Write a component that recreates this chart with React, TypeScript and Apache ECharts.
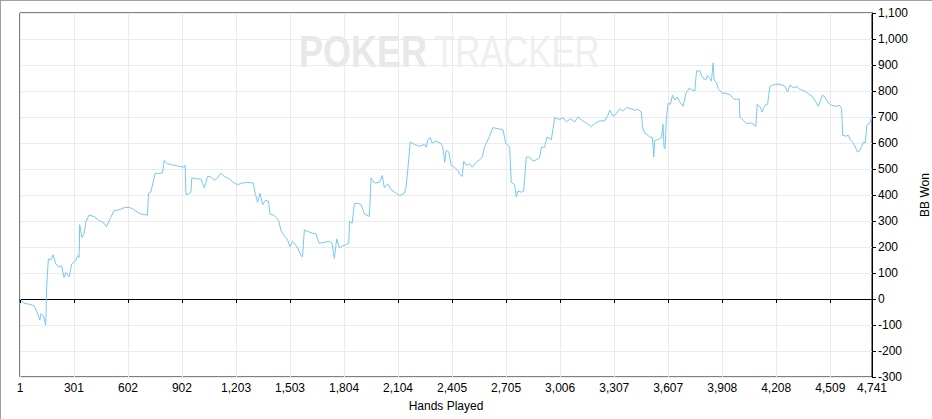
import React, { useEffect, useRef } from "react";
import * as echarts from "echarts";

const hands = [1,23,51,79,97,111,118,131,144,150,159,172,185,200,218,233,246,256,274,289,311,322,330,333,345,357,367,385,413,441,469,482,506,525,552,580,608,627,645,673,701,710,716,729,753,771,794,803,821,849,887,914,920,924,942,952,957,980,1007,1026,1035,1044,1063,1082,1100,1119,1137,1165,1193,1211,1239,1267,1299,1310,1323,1336,1351,1366,1384,1392,1416,1440,1453,1471,1490,1503,1518,1546,1564,1573,1583,1601,1629,1648,1666,1694,1722,1737,1750,1763,1778,1796,1815,1830,1834,1849,1861,1880,1899,1917,1945,1954,1973,2001,2016,2028,2047,2066,2094,2112,2140,2149,2158,2172,2195,2223,2251,2261,2270,2283,2294,2317,2344,2353,2364,2372,2387,2400,2418,2437,2446,2461,2470,2484,2502,2517,2539,2558,2573,2585,2598,2613,2632,2660,2688,2703,2725,2734,2753,2762,2771,2790,2803,2818,2836,2855,2874,2892,2902,2920,2933,2957,2976,3004,3022,3041,3063,3087,3105,3133,3161,3180,3198,3226,3254,3272,3282,3300,3319,3337,3355,3374,3402,3421,3439,3458,3464,3476,3495,3504,3519,3527,3532,3551,3570,3578,3584,3590,3597,3606,3620,3631,3644,3657,3672,3690,3705,3724,3738,3755,3765,3783,3798,3817,3826,3839,3848,3857,3863,3876,3885,3904,3928,3950,3969,3987,4002,4006,4024,4043,4071,4095,4102,4117,4130,4145,4160,4173,4201,4229,4256,4272,4284,4303,4325,4340,4368,4386,4411,4429,4442,4451,4466,4479,4498,4517,4541,4559,4572,4578,4596,4609,4622,4637,4652,4661,4670,4684,4693,4704,4712,4726,4734,4741];

const bbWon = [0,-16,-20,-26,-52,-81,-56,-65,-100,57,154,150,170,135,122,128,83,102,86,135,147,167,160,286,237,250,295,323,317,302,291,278,314,340,343,351,353,347,338,327,325,321,407,411,484,482,486,533,520,516,510,507,514,402,405,411,466,462,462,428,446,472,469,456,466,484,472,462,446,440,446,449,446,405,372,407,363,379,376,327,321,302,263,244,227,201,222,196,167,163,266,260,253,250,214,218,222,214,156,231,196,205,209,214,299,291,366,368,363,327,317,466,446,449,475,428,443,420,407,398,407,430,494,604,595,587,595,584,610,621,600,607,597,584,526,572,565,514,507,494,482,471,530,514,520,507,526,536,546,584,604,626,659,655,651,600,584,449,440,392,415,411,415,546,546,530,536,543,584,584,623,613,698,690,698,681,694,681,700,685,672,662,675,685,685,707,726,703,713,732,723,736,732,726,729,719,662,638,630,623,621,546,610,613,621,672,584,578,694,752,749,784,765,777,758,741,790,810,805,800,877,877,851,843,860,847,838,908,843,831,810,793,790,787,771,767,771,700,687,675,677,664,749,741,719,745,749,818,826,826,818,796,822,813,816,806,800,790,777,758,741,758,784,777,754,745,741,745,732,630,626,630,610,600,578,565,569,587,604,600,668,675,685,707];

const xTicks = [1,301,602,902,1203,1503,1804,2104,2405,2705,3006,3307,3607,3908,4208,4509,4741];

const yMin = -300;
const yMax = 1100;
const yStep = 100;

export default function App() {
  const ref = useRef<HTMLDivElement>(null);
  useEffect(() => {
    if (!ref.current) return;
    const chart = echarts.init(ref.current, null, { renderer: "svg" });
    const data = hands.map((h, i) => [h, bbWon[i]]);
    const font = "Liberation Sans, Arial, sans-serif";
    chart.setOption({
      animation: false,
      backgroundColor: "#ffffff",
      grid: {
        left: 20,
        right: 60,
        top: 13,
        bottom: 42,
        containLabel: false,
        outerBoundsMode: "none",
        show: true,
        borderColor: "#000000",
        borderWidth: 1,
        backgroundColor: "transparent",
      },
      graphic: [
        {
          type: "line",
          shape: { x1: 0.5, y1: 0, x2: 0.5, y2: 419 },
          style: { stroke: "#a0a0a0", lineWidth: 1 },
        },
        {
          type: "line",
          shape: { x1: 0, y1: 0.5, x2: 932, y2: 0.5 },
          style: { stroke: "#a0a0a0", lineWidth: 1 },
        },
        {
          type: "text",
          x: 299,
          y: 29,
          scaleX: 0.8,
          z: 0,
          style: {
            text: "POKER",
            font: "bold 45px Liberation Sans, Arial, sans-serif",
            fill: "#e8e8e8",
          },
        },
        {
          type: "text",
          x: 434,
          y: 29,
          scaleX: 0.77,
          z: 0,
          style: {
            text: "TRACKER",
            font: "45px Liberation Sans, Arial, sans-serif",
            fill: "#efefef",
          },
        },
      ],
      xAxis: {
        type: "value",
        min: 1,
        max: 4741,
        name: "Hands Played",
        nameLocation: "middle",
        nameGap: 23,
        nameTextStyle: { color: "#000", fontSize: 12, fontFamily: font },
        axisLine: { show: true, lineStyle: { color: "#000", width: 1 } },
        axisTick: { show: true, length: 4, customValues: xTicks, lineStyle: { color: "#000" } },
        axisLabel: {
          customValues: xTicks,
          color: "#000",
          fontSize: 12,
          fontFamily: font,
          margin: 5,
          formatter: (v: number) => v.toLocaleString("en-US"),
        },
        splitLine: { show: true, lineStyle: { color: "#ebebeb", width: 1 } },
      },
      yAxis: {
        type: "value",
        position: "right",
        min: yMin,
        max: yMax,
        interval: yStep,
        name: "BB Won",
        nameLocation: "middle",
        nameRotate: 90,
        nameGap: 46,
        nameTextStyle: { color: "#000", fontSize: 12, fontFamily: font },
        axisLine: { show: true, lineStyle: { color: "#000", width: 1 } },
        axisTick: { show: true, length: 4, lineStyle: { color: "#000" } },
        axisLabel: {
          color: "#000",
          fontSize: 12,
          fontFamily: font,
          margin: 6,
          formatter: (v: number) => v.toLocaleString("en-US"),
        },
        splitLine: { show: true, lineStyle: { color: "#ebebeb", width: 1 } },
      },
      series: [
        {
          type: "line",
          data,
          showSymbol: false,
          symbol: "none",
          z: 5,
          lineStyle: { color: "#76c8f0", width: 1 },
          markLine: {
            silent: true,
            symbol: "none",
            label: { show: false },
            lineStyle: { color: "#000", width: 1, type: "solid" },
            data: [{ yAxis: 0 }],
          },
        },
      ],
    });
    return () => chart.dispose();
  }, []);
  return (
    <div
      ref={ref}
      style={{ position: "fixed", left: 0, top: 0, width: 932, height: 419 }}
    />
  );
}
